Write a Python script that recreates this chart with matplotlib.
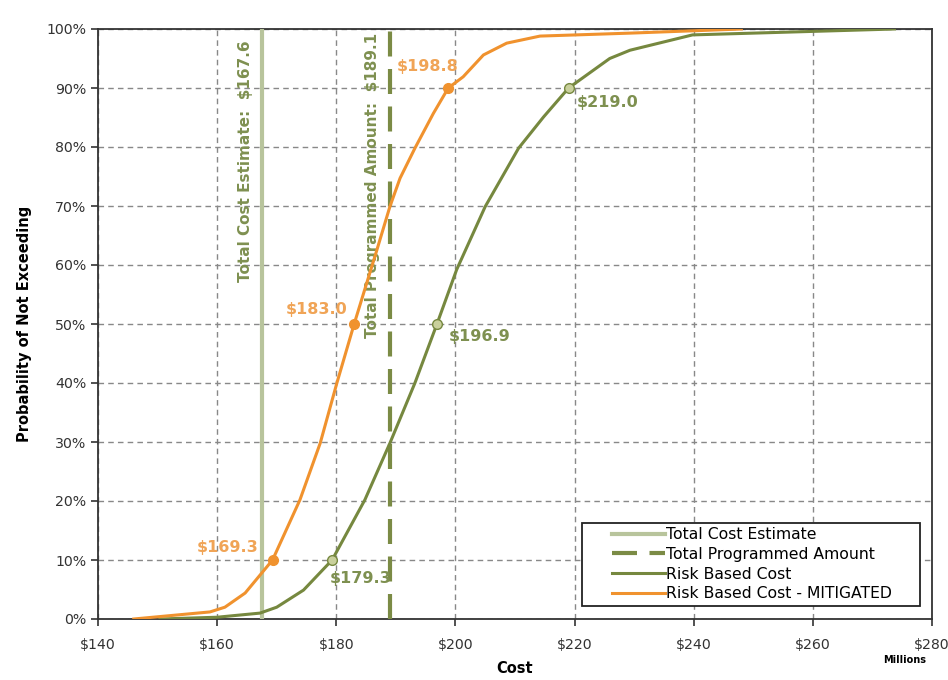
import matplotlib.pyplot as plt
from matplotlib.legend_handler import HandlerLine2D
from matplotlib.ticker import FuncFormatter, MultipleLocator

# cumulative cost curves ($M vs probability of not exceeding, %)
risk_cost = [150.4, 160.0, 167.2, 170.0, 174.5, 179.3, 184.8, 189.0, 193.2,
             196.9, 200.2, 205.0, 210.6, 214.8, 219.0, 225.9, 229.3, 239.8, 273.7]
risk_prob = [0, 0.3, 1.0, 2.0, 4.9, 10, 20.2, 29.8, 40,
             50, 59.2, 69.9, 79.8, 85.1, 90, 95.0, 96.4, 99, 100]

mitigated_cost = [146.0, 158.8, 161.3, 164.7, 169.3, 173.9, 177.3, 180.1, 183.0,
                  186.8, 189.0, 190.7, 193.2, 196.3, 198.8, 201.3, 204.7, 208.6,
                  214.2, 229.3, 248.0]
mitigated_prob = [0, 1.2, 2.0, 4.4, 10, 20.2, 29.8, 40, 50,
                  62.5, 69.9, 74.7, 79.8, 85.7, 90, 91.9, 95.6, 97.6,
                  98.8, 99.3, 100]

total_estimate = 167.6
programmed = 189.1

# labelled percentiles
risk_marks = [(179.3, 10), (196.9, 50), (219.0, 90)]
mitigated_marks = [(169.3, 10), (183.0, 50), (198.8, 90)]

c_est = '#b8c49c'
c_prog = '#7b8b45'
c_risk = '#76883f'
c_mit = '#f0922e'
c_mit_txt = '#f0a456'
c_risk_txt = '#7e9050'

plt.rcParams['font.family'] = ['Verdana', 'DejaVu Sans']
fig = plt.figure(figsize=(9.48, 6.8), dpi=100)
ax = fig.add_axes([98 / 948, 61 / 680, 834 / 948, 590 / 680])

ax.axvline(total_estimate, color=c_est, lw=3, label='Total Cost Estimate', zorder=3)
ax.axvline(programmed, color=c_prog, lw=3, dashes=(6, 3), label='Total Programmed Amount', zorder=3)
ax.plot(risk_cost, risk_prob, color=c_risk, lw=2.2, label='Risk Based Cost', zorder=4)
ax.plot(mitigated_cost, mitigated_prob, color=c_mit, lw=2.2, label='Risk Based Cost - MITIGATED', zorder=4)

ax.plot([m[0] for m in risk_marks], [m[1] for m in risk_marks], 'o', ms=7,
        mfc='#c9d09c', mec=c_risk, mew=1, zorder=5)
ax.plot([m[0] for m in mitigated_marks], [m[1] for m in mitigated_marks], 'o', ms=7,
        mfc=c_mit, mec=c_mit, zorder=5)

lbl = dict(fontsize=11.5, fontweight='bold', va='center')
ax.text(167.0, 12.2, '$%.1f' % mitigated_marks[0][0], color=c_mit_txt, ha='right', **lbl)
ax.text(181.9, 52.5, '$%.1f' % mitigated_marks[1][0], color=c_mit_txt, ha='right', **lbl)
ax.text(190.1, 93.7, '$%.1f' % mitigated_marks[2][0], color=c_mit_txt, ha='left', **lbl)
ax.text(178.9, 6.9, '$%.1f' % risk_marks[0][0], color=c_risk_txt, ha='left', **lbl)
ax.text(198.9, 47.8, '$%.1f' % risk_marks[1][0], color=c_risk_txt, ha='left', **lbl)
ax.text(220.4, 87.5, '$%.1f' % risk_marks[2][0], color=c_risk_txt, ha='left', **lbl)

ax.text(166.0, 98.1, 'Total Cost Estimate:  $%.1f' % total_estimate,
        rotation=90, color=c_risk_txt, ha='right', va='top', fontsize=11, fontweight='bold')
ax.text(187.3, 99.3, 'Total Programmed Amount:  $%.1f' % programmed,
        rotation=90, color=c_risk_txt, ha='right', va='top', fontsize=11, fontweight='bold')

ax.set_xlim(140, 280)
ax.set_ylim(0, 100)
ax.xaxis.set_major_locator(MultipleLocator(20))
ax.yaxis.set_major_locator(MultipleLocator(10))
ax.xaxis.set_major_formatter(FuncFormatter(lambda v, p: '$%d' % v))
ax.yaxis.set_major_formatter(FuncFormatter(lambda v, p: '%d%%' % v))
ax.tick_params(labelsize=10.2, colors='#333333', length=5, width=1.2)
ax.tick_params(axis='x', pad=9)
ax.grid(True, color='#888888', ls=(0, (4, 3)), lw=1)
for s in ax.spines.values():
    s.set_color('#333333')
    s.set_linewidth(1.3)

ax.set_xlabel('Cost', fontsize=10.5, fontweight='bold', labelpad=6)
ax.set_ylabel('Probability of Not Exceeding', fontsize=10.5, fontweight='bold', labelpad=10)
fig.text(905 / 948, 1 - 660 / 680, 'Millions', fontsize=7, fontweight='bold', ha='center', va='center')

# blank space to the left of each legend line, box stretched to a fixed width
pad_handler = HandlerLine2D(xpad=1.6)
leg = ax.legend(loc='lower left', bbox_to_anchor=(0.5803, 0.022, 0.4053, 0.2), mode='expand',
                fontsize=11.25, frameon=True, fancybox=False, edgecolor='#222222',
                handlelength=5.0, handletextpad=0.1, borderpad=0.3, labelspacing=0.3,
                borderaxespad=0,
                handler_map={l: pad_handler for l in ax.get_lines()[:4]})
leg.get_frame().set_linewidth(1.3)
leg.get_frame().set_alpha(1)

fig.savefig('out.png', dpi=100)
